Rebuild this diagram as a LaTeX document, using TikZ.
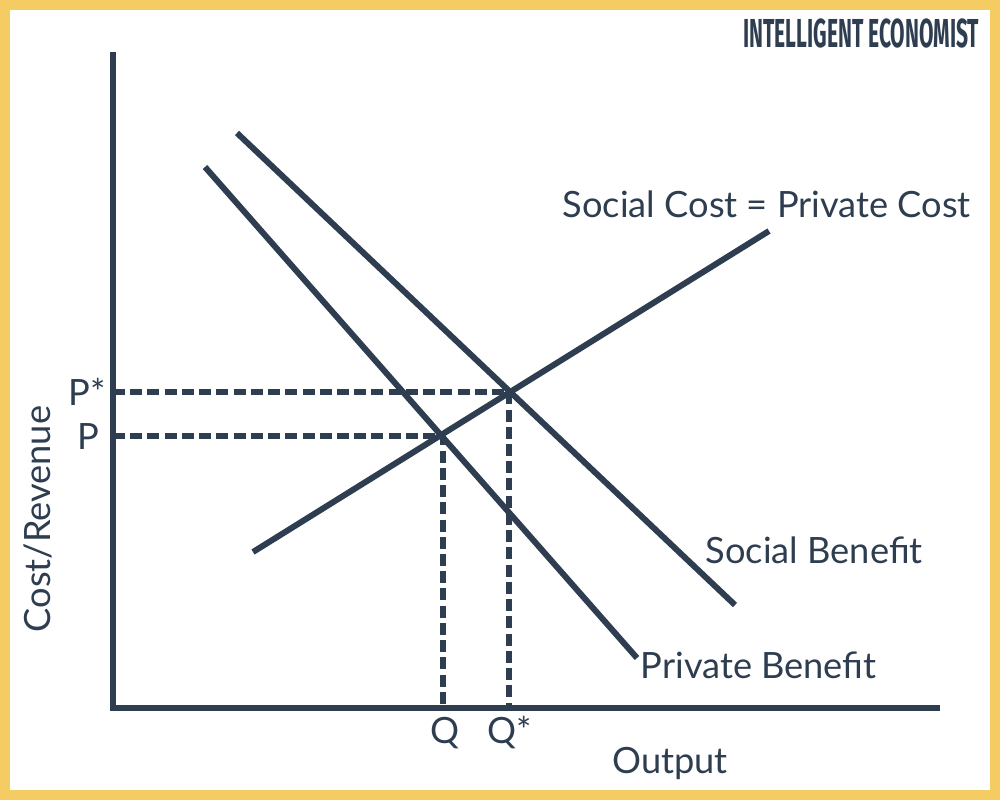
\documentclass[tikz,border=0pt]{standalone}
\usepackage{fontspec}
\setmainfont{Lato}
\newfontfamily\brandfont{Fira Sans}
\usepackage{tikz}
\usetikzlibrary{arrows}
\definecolor{ink}{HTML}{2E3E50}
\definecolor{frame}{HTML}{F4CC63}

\begin{document}
\begin{tikzpicture}[x=0.01cm,y=-0.01cm,line cap=butt,
	curve/.style={ink,line width=1.7pt},
	axis/.style={ink,line width=1.7pt},
	guide/.style={ink,line width=1.5pt,dash pattern=on 3.4pt off 1.5pt},
	lbl/.style={text=ink,inner sep=0pt,font=\fontsize{10.3}{12}\selectfont}]
	\fill[frame] (0,0) rectangle (1000,800);
	\fill[white] (10,10) rectangle (990,790);
	\useasboundingbox (0,0) rectangle (1000,800);
	% axes
	\coordinate (o) at (113,708);
	\coordinate (ytop) at (113,52);
	\coordinate (xend) at (940,708);
	\draw[axis] (ytop) -- (o) -- (xend);
	% curves
	\coordinate (sc0) at (253,552);
	\coordinate (sc1) at (769,231);
	\coordinate (pb0) at (205,167);
	\coordinate (pb1) at (637,658);
	\coordinate (sb0) at (237,133);
	\coordinate (sb1) at (735,605);
	\draw[curve] (sc0) -- (sc1);
	\draw[curve] (pb0) -- (pb1);
	\draw[curve] (sb0) -- (sb1);
	% equilibria
	\coordinate (e) at (443,436);
	\coordinate (estar) at (509,392);
	\coordinate (ye) at (113,436);
	\coordinate (yestar) at (113,392);
	\coordinate (xe) at (443,708);
	\coordinate (xestar) at (509,708);
	\draw[guide] (ye) -- (e) -- (xe);
	\draw[guide] (yestar) -- (estar) -- (xestar);
	% labels
	\node[lbl] (pstar) at (87,392) {P*};
	\node[lbl] (p) at (88,437) {P};
	\node[lbl] (q) at (445,733) {Q};
	\node[lbl] (qstar) at (510,733) {Q*};
	\node[lbl] (output) at (670,763) {Output};
	\node[lbl,rotate=90] (cost) at (38,519) {Cost/Revenue};
	\node[lbl,anchor=west] (sclabel) at (562,204) {Social Cost = Private Cost};
	\node[lbl,anchor=west] (sblabel) at (705,550) {Social Benefit};
	\node[lbl,anchor=west] (pblabel) at (640,665) {Private Benefit};
	\node[text=ink,inner sep=0pt,anchor=east] (brand) at (980,33)
		{\scalebox{0.52}[1]{\brandfont\bfseries\fontsize{11.5}{13}\selectfont INTELLIGENT ECONOMIST}};
\end{tikzpicture}
\end{document}
